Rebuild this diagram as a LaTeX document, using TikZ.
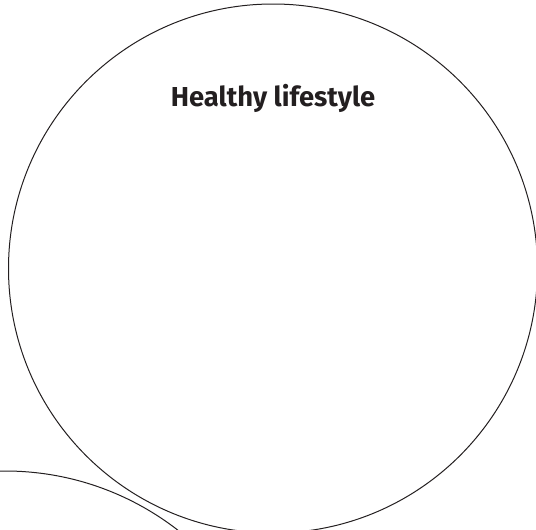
\documentclass[tikz,border=0pt]{standalone}
\usepackage{fontspec}
\setmainfont{Fira Sans}
\definecolor{ink}{HTML}{231F20}
\begin{document}
\begin{tikzpicture}[x=1pt,y=-1pt,
  outline/.style={draw=ink,line width=1pt},
  title/.style={font=\fontsize{27.4}{30}\selectfont\bfseries,text=ink,inner sep=0pt,anchor=base}]
\useasboundingbox (0,0) rectangle (536,530);
\clip (0,0) rectangle (536,530);
\node[outline,circle,minimum size=529pt,inner sep=0pt] (big) at (273,268.5) {};
\node[outline,circle,minimum size=564pt,inner sep=0pt] (small) at (5,753) {};
\node[title] (t) at (273,106.7) {Healthy lifestyle};
\end{tikzpicture}
\end{document}
